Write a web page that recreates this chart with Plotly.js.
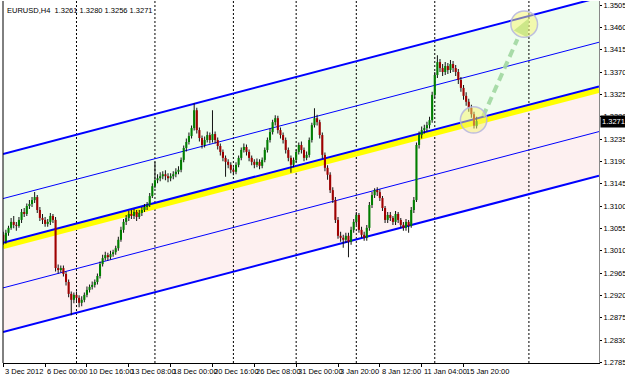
<!DOCTYPE html>
<html><head><meta charset="utf-8">
<script src="https://cdn.plot.ly/plotly-3.0.1.min.js"></script>
<style>html,body{margin:0;padding:0;background:#fff;overflow:hidden}</style>
</head><body><div id="chart" style="width:625px;height:376px"></div>
<script>
// ---- Data (EURUSD H4) ----
const symbolTitle = "EURUSD,H4  1.3261 1.3280 1.3256 1.3271";
const lastPrice = 1.3271;
const openP = [1.3042,1.3029,1.3046,1.3056,1.3068,1.3062,1.3060,1.3072,1.3088,1.3084,1.3100,1.3104,1.3112,1.3118,1.3092,1.3076,1.3072,1.3064,1.3068,1.3080,
1.3072,1.2975,1.2971,1.2975,1.2963,1.2947,1.2923,1.2911,1.2921,1.2915,1.2905,1.2911,1.2921,1.2931,1.2937,1.2941,1.2947,1.2959,1.2983,1.2995,
1.3001,1.2997,1.3003,1.3007,1.3015,1.3032,1.3052,1.3068,1.3076,1.3084,1.3080,1.3088,1.3078,1.3086,1.3092,1.3098,1.3102,1.3120,1.3140,1.3152,
1.3156,1.3160,1.3164,1.3160,1.3156,1.3160,1.3164,1.3169,1.3173,1.3193,1.3217,1.3229,1.3241,1.3257,1.3293,1.3253,1.3237,1.3223,1.3233,1.3243,
1.3233,1.3245,1.3233,1.3221,1.3209,1.3197,1.3189,1.3183,1.3173,1.3169,1.3183,1.3197,1.3213,1.3219,1.3209,1.3197,1.3189,1.3183,1.3189,1.3181,
1.3193,1.3213,1.3233,1.3249,1.3269,1.3277,1.3253,1.3243,1.3233,1.3213,1.3197,1.3183,1.3193,1.3209,1.3223,1.3213,1.3197,1.3203,1.3233,1.3263,
1.3277,1.3269,1.3243,1.3203,1.3177,1.3163,1.3132,1.3112,1.3072,1.3040,1.3036,1.3032,1.3040,1.3028,1.3052,1.3068,1.3082,1.3052,1.3042,1.3036,
1.3056,1.3102,1.3122,1.3132,1.3128,1.3116,1.3096,1.3072,1.3082,1.3076,1.3068,1.3084,1.3072,1.3062,1.3056,1.3068,1.3060,1.3092,1.3112,1.3223,
1.3243,1.3253,1.3257,1.3263,1.3273,1.3324,1.3364,1.3390,1.3378,1.3370,1.3382,1.3374,1.3386,1.3378,1.3370,1.3354,1.3338,1.3322,1.3310,1.3298,
1.3285,1.3261];
const highP = [1.3048,1.3052,1.3060,1.3076,1.3080,1.3068,1.3078,1.3094,1.3096,1.3105,1.3112,1.3118,1.3128,1.3122,1.3098,1.3084,1.3078,1.3074,1.3086,1.3084,
1.3078,1.2982,1.2980,1.2980,1.2968,1.2952,1.2928,1.2926,1.2928,1.2920,1.2918,1.2926,1.2938,1.2942,1.2948,1.2952,1.2964,1.2988,1.3002,1.3008,
1.3006,1.3010,1.3012,1.3020,1.3038,1.3058,1.3074,1.3082,1.3090,1.3092,1.3094,1.3092,1.3092,1.3098,1.3104,1.3108,1.3126,1.3146,1.3189,1.3164,
1.3168,1.3170,1.3172,1.3166,1.3166,1.3170,1.3176,1.3180,1.3198,1.3222,1.3236,1.3248,1.3262,1.3307,1.3298,1.3258,1.3242,1.3240,1.3250,1.3248,
1.3293,1.3250,1.3238,1.3226,1.3214,1.3202,1.3194,1.3188,1.3178,1.3188,1.3202,1.3218,1.3226,1.3224,1.3214,1.3202,1.3194,1.3196,1.3194,1.3198,
1.3218,1.3238,1.3256,1.3274,1.3283,1.3282,1.3258,1.3248,1.3238,1.3218,1.3202,1.3198,1.3214,1.3228,1.3230,1.3218,1.3210,1.3238,1.3268,1.3297,
1.3284,1.3274,1.3248,1.3208,1.3182,1.3168,1.3138,1.3118,1.3078,1.3048,1.3042,1.3046,1.3046,1.3058,1.3074,1.3088,1.3086,1.3058,1.3048,1.3062,
1.3108,1.3128,1.3136,1.3138,1.3134,1.3120,1.3100,1.3088,1.3088,1.3080,1.3090,1.3088,1.3076,1.3068,1.3074,1.3072,1.3098,1.3118,1.3228,1.3250,
1.3260,1.3264,1.3270,1.3280,1.3330,1.3370,1.3404,1.3396,1.3386,1.3390,1.3388,1.3394,1.3392,1.3384,1.3376,1.3360,1.3344,1.3329,1.3316,1.3304,
1.3290,1.3280];
const lowP = [1.3022,1.3024,1.3040,1.3052,1.3055,1.3050,1.3056,1.3066,1.3078,1.3080,1.3094,1.3098,1.3106,1.3086,1.3070,1.3064,1.3058,1.3058,1.3062,1.3066,
1.2968,1.2964,1.2966,1.2958,1.2940,1.2916,1.2880,1.2904,1.2906,1.2896,1.2898,1.2906,1.2916,1.2926,1.2932,1.2936,1.2942,1.2954,1.2978,1.2990,
1.2990,1.2992,1.2998,1.3002,1.3010,1.3028,1.3046,1.3062,1.3070,1.3074,1.3074,1.3070,1.3074,1.3080,1.3088,1.3092,1.3098,1.3116,1.3136,1.3146,
1.3150,1.3154,1.3152,1.3148,1.3150,1.3154,1.3158,1.3164,1.3168,1.3188,1.3210,1.3224,1.3236,1.3252,1.3246,1.3230,1.3216,1.3218,1.3228,1.3226,
1.3228,1.3226,1.3214,1.3202,1.3190,1.3159,1.3176,1.3166,1.3162,1.3164,1.3178,1.3192,1.3208,1.3202,1.3190,1.3182,1.3176,1.3178,1.3174,1.3176,
1.3188,1.3208,1.3228,1.3244,1.3262,1.3246,1.3236,1.3226,1.3206,1.3190,1.3167,1.3178,1.3188,1.3204,1.3206,1.3190,1.3192,1.3198,1.3228,1.3258,
1.3262,1.3236,1.3196,1.3170,1.3153,1.3126,1.3106,1.3066,1.3034,1.3028,1.3016,1.3026,1.2997,1.3022,1.3046,1.3062,1.3046,1.3036,1.3030,1.3030,
1.3050,1.3096,1.3116,1.3120,1.3110,1.3090,1.3066,1.3066,1.3070,1.3062,1.3062,1.3066,1.3056,1.3050,1.3050,1.3046,1.3056,1.3086,1.3108,1.3216,
1.3236,1.3246,1.3250,1.3256,1.3268,1.3318,1.3358,1.3370,1.3362,1.3364,1.3366,1.3368,1.3370,1.3362,1.3346,1.3330,1.3314,1.3302,1.3290,1.3278,
1.3256,1.3256];
const closeP = [1.3029,1.3046,1.3056,1.3068,1.3062,1.3060,1.3072,1.3088,1.3084,1.3100,1.3104,1.3112,1.3118,1.3092,1.3076,1.3072,1.3064,1.3068,1.3080,1.3072,
1.2975,1.2971,1.2975,1.2963,1.2947,1.2923,1.2911,1.2921,1.2915,1.2905,1.2911,1.2921,1.2931,1.2937,1.2941,1.2947,1.2959,1.2983,1.2995,1.3001,
1.2997,1.3003,1.3007,1.3015,1.3032,1.3052,1.3068,1.3076,1.3084,1.3080,1.3088,1.3078,1.3086,1.3092,1.3098,1.3102,1.3120,1.3140,1.3152,1.3156,
1.3160,1.3164,1.3160,1.3156,1.3160,1.3164,1.3169,1.3173,1.3193,1.3217,1.3229,1.3241,1.3257,1.3293,1.3253,1.3237,1.3223,1.3233,1.3243,1.3233,
1.3245,1.3233,1.3221,1.3209,1.3197,1.3189,1.3183,1.3173,1.3169,1.3183,1.3197,1.3213,1.3219,1.3209,1.3197,1.3189,1.3183,1.3189,1.3181,1.3193,
1.3213,1.3233,1.3249,1.3269,1.3277,1.3253,1.3243,1.3233,1.3213,1.3197,1.3183,1.3193,1.3209,1.3223,1.3213,1.3197,1.3203,1.3233,1.3263,1.3277,
1.3269,1.3243,1.3203,1.3177,1.3163,1.3132,1.3112,1.3072,1.3040,1.3036,1.3032,1.3040,1.3028,1.3052,1.3068,1.3082,1.3052,1.3042,1.3036,1.3056,
1.3102,1.3122,1.3132,1.3128,1.3116,1.3096,1.3072,1.3082,1.3076,1.3068,1.3084,1.3072,1.3062,1.3056,1.3068,1.3060,1.3092,1.3112,1.3223,1.3243,
1.3253,1.3257,1.3263,1.3273,1.3324,1.3364,1.3390,1.3378,1.3370,1.3382,1.3374,1.3386,1.3378,1.3370,1.3354,1.3338,1.3322,1.3310,1.3298,1.3285,
1.3262,1.3271];

// x-axis labels (bar index -> text)
const timeTickBars = [0,16,32,48,64,80,96,112,128,144,160,176];
const timeTickText = ["3 Dec 2012","6 Dec 00:00","10 Dec 16:00","13 Dec 08:00","18 Dec 00:00","20 Dec 16:00","26 Dec 08:00","31 Dec 00:00","3 Jan 20:00","8 Jan 12:00","11 Jan 04:00","15 Jan 20:00"];
// weekly period separators (bar index)
const separatorBars = [28,58,88,112,135,165,201];
// price axis labels
const priceTicks = [1.2785,1.2830,1.2875,1.2920,1.2965,1.3010,1.3055,1.3100,1.3145,1.3190,1.3235,1.3280,1.3325,1.3370,1.3415,1.3460,1.3505];

// channel lines: endpoints at left / right edge of chart
const chanX = [-0.1, 227.8];
const chanTop = [1.3205, 1.3520];
const chanUpper = [1.3115, 1.3430];
const chanMid = [1.3026, 1.3341];
const chanMidYellow = [1.3019, 1.3334];
const chanLower = [1.2935, 1.3250];
const chanBottom = [1.2846, 1.3161];

// markup: circles (x0,x1,y0,y1) and projection arrow
const circle1 = [174.8, 184.9, 1.3247, 1.3300];
const circle2 = [194.1, 204.3, 1.3440, 1.3493];
const arrowLineX = [183.5, 196.6];
const arrowLineY = [1.3281, 1.3436];
const arrowHeadX = [195.2, 201.1, 200.5];
const arrowHeadY = [1.34535, 1.34788, 1.34397];

const xRange = [-0.1, 227.8];
const yRange = [1.27837, 1.35131];

// ---- Build figure ----
const idx = closeP.map((_, i) => i);
const shapes = [];
function seg(xs, ys, line) {
  return {type:'line', xref:'x', yref:'y', x0:xs[0], x1:xs[1], y0:ys[0], y1:ys[1], line:line, layer:'below'};
}
function poly(xs, ys) {
  let p = 'M' + xs[0] + ',' + ys[0];
  for (let k = 1; k < xs.length; k++) p += ' L' + xs[k] + ',' + ys[k];
  return p + ' Z';
}
// channel background fills
shapes.push({type:'path', xref:'x', yref:'y', layer:'below', line:{width:0}, fillcolor:'#EEFDEE',
  path:poly([chanX[0],chanX[1],chanX[1],chanX[0]], [chanTop[0],chanTop[1],chanMid[1],chanMid[0]])});
shapes.push({type:'path', xref:'x', yref:'y', layer:'below', line:{width:0}, fillcolor:'#FDF0F0',
  path:poly([chanX[0],chanX[1],chanX[1],chanX[0]], [chanMid[0],chanMid[1],chanBottom[1],chanBottom[0]])});
// period separators
separatorBars.forEach(b => shapes.push(seg([b,b], yRange, {color:'#000', width:1, dash:'2px,2px'})));
// channel lines
shapes.push(seg(chanX, chanMidYellow, {color:'#FFFF00', width:6}));
[[chanTop,2],[chanUpper,1],[chanMid,2],[chanLower,1],[chanBottom,2]].forEach(([yy,w]) => shapes.push(seg(chanX, yy, {color:'#0000FF', width:w})));
// border on the left
shapes.push({type:'line', xref:'paper', yref:'paper', x0:0, x1:0, y0:0, y1:1, line:{color:'#000', width:1}});
// markup above
shapes.push({type:'path', xref:'x', yref:'y', path:poly(arrowHeadX, arrowHeadY), fillcolor:'rgba(160,215,160,0.95)', line:{width:0}, layer:'above'});
[circle1, circle2].forEach(c => shapes.push({type:'circle', xref:'x', yref:'y', x0:c[0], x1:c[1], y0:c[2], y1:c[3],
  fillcolor:'rgba(245,245,110,0.5)', line:{color:'rgba(180,180,225,0.85)', width:1.5}, layer:'above'}));

const traces = [];
// wicks (thin bars, drawn first)
traces.push({type:'bar', x:idx, base:lowP, y:idx.map(i => highP[i]-lowP[i]), width:0.38,
  marker:{color:'#111', line:{width:0}}, hoverinfo:'skip'});
// bodies
traces.push({type:'bar', x:idx, base:openP, y:idx.map(i => (closeP[i]-openP[i]) || 0.00006), width:0.8,
  marker:{color:idx.map(i => closeP[i] >= openP[i] ? '#007F00' : '#A00000'), line:{width:0}}, hoverinfo:'skip'});
// arrow dashed line
traces.push({x:arrowLineX, y:arrowLineY, mode:'lines', line:{color:'rgba(160,215,160,0.9)', width:4, dash:'8px,5px'}, hoverinfo:'skip'});

const font = {family:'Liberation Sans, Arial, sans-serif', size:7.5, color:'#000'};
const annotations = [
  {xref:'paper', yref:'paper', x:0, y:1, xanchor:'left', yanchor:'top', xshift:2, yshift:-3, text:symbolTitle, showarrow:false, font:font},
  {xref:'paper', yref:'y', x:1, y:lastPrice, xanchor:'left', yanchor:'middle', xshift:1, text:lastPrice.toFixed(4), showarrow:false, bgcolor:'#000', borderpad:1, font:{family:font.family, size:7.5, color:'#fff'}}
];
timeTickBars.forEach((b, k) => annotations.push({xref:'x', yref:'paper', x:b, y:0, xanchor:'left', yanchor:'top', yshift:-2, xshift:0, text:timeTickText[k], showarrow:false, font:font}));

const layout = {
  width:625, height:376,
  margin:{l:3, r:26, t:1, b:13, pad:0},
  paper_bgcolor:'#fff', plot_bgcolor:'#fff',
  showlegend:false, barmode:'overlay', hovermode:false,
  xaxis:{range:xRange, showgrid:false, zeroline:false, showline:true, linecolor:'#000', linewidth:1,
    tickvals:timeTickBars, showticklabels:false, ticks:'outside', ticklen:3, tickcolor:'#000'},
  yaxis:{range:yRange, side:'right', showgrid:false, zeroline:false, showline:true, linecolor:'#888', linewidth:1,
    tickvals:priceTicks, tickformat:'.4f', ticks:'outside', ticklen:2, tickcolor:'#000', tickfont:font},
  annotations:annotations, shapes:shapes
};
Plotly.newPlot('chart', traces, layout, {staticPlot:true, displayModeBar:false});
</script></body></html>
